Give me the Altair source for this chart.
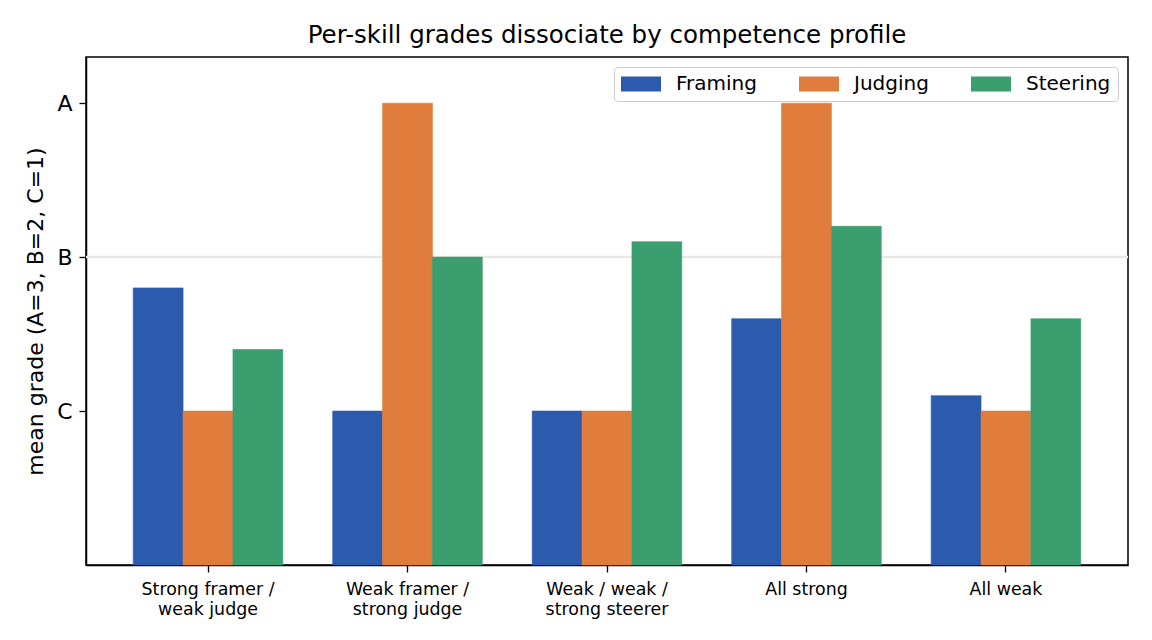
import altair as alt
import pandas as pd

# Competence profiles (line break marks where the axis label wraps)
profiles = [
    "Strong framer /\nweak judge",
    "Weak framer /\nstrong judge",
    "Weak / weak /\nstrong steerer",
    "All strong",
    "All weak",
]
skills = ["Framing", "Judging", "Steering"]
colors = ["#2c5bad", "#e07c3c", "#3a9e6f"]

# Mean grade per skill (A=3, B=2, C=1)
framing = [1.8, 1.0, 1.0, 1.6, 1.1]
judging = [1.0, 3.0, 1.0, 3.0, 1.0]
steering = [1.4, 2.0, 2.1, 2.2, 1.6]

grade_ticks = [1, 2, 3]
grade_labels = ["C", "B", "A"]
reference_grade = [2]

rows = []
for skill, vals in zip(skills, [framing, judging, steering]):
    for prof, v in zip(profiles, vals):
        rows.append({"profile": prof, "skill": skill, "grade": v})
df = pd.DataFrame(rows)

label_expr = " : ".join(
    f"datum.value == {t} ? '{l}'" for t, l in zip(grade_ticks, grade_labels)
) + " : ''"

FONT = "DejaVu Sans"

y_scale = alt.Scale(domain=[0, 3.3], nice=False, zero=True)
skill_scale = alt.Scale(domain=skills, range=colors)

ref_line = (
    alt.Chart(pd.DataFrame({"grade": reference_grade}))
    .mark_rule(color="#e8e8e8", strokeWidth=2.5)
    .encode(y=alt.Y("grade:Q", scale=y_scale))
)

bars = (
    alt.Chart(df)
    .mark_bar(strokeWidth=0.6)
    .encode(
        x=alt.X(
            "profile:N",
            sort=profiles,
            scale=alt.Scale(paddingInner=0.25, paddingOuter=0.2366),
            axis=alt.Axis(
                title=None,
                labelAngle=0,
                labelExpr="split(datum.label, '\\n')",
                labelFontSize=17.4,
                labelLineHeight=20,
                labelPadding=8,
            ),
        ),
        xOffset=alt.XOffset(
            "skill:N",
            sort=skills,
            scale=alt.Scale(paddingInner=0, paddingOuter=0),
        ),
        y=alt.Y(
            "grade:Q",
            scale=y_scale,
            axis=alt.Axis(
                values=grade_ticks,
                labelExpr=label_expr,
                grid=False,
                title="mean grade (A=3, B=2, C=1)",
                titleFontSize=22,
                titleFontWeight="normal",
                titlePadding=9,
                labelFontSize=22,
                labelPadding=7,
            ),
        ),
        stroke=alt.Stroke("skill:N", sort=skills, scale=skill_scale, legend=None),
        color=alt.Color(
            "skill:N",
            sort=skills,
            scale=skill_scale,
            legend=alt.Legend(
                title=None,
                orient="top-right",
                offset=10,
                direction="horizontal",
                columns=3,
                symbolType="M-1,-0.75H3V0.75H-1Z",
                symbolSize=400,
                symbolStrokeWidth=0,
                symbolOpacity=1,
                labelFontSize=20,
                labelOffset=35,
                columnPadding=42,
                padding=7,
                strokeColor="#cccccc",
                fillColor="white",
                cornerRadius=4,
            ),
        ),
    )
)

chart = (
    alt.layer(ref_line, bars)
    .properties(
        width=1042,
        height=508,
        padding={"left": 86, "top": 57, "right": 24, "bottom": 75},
        autosize=alt.AutoSizeParams(type="none"),
        title=alt.TitleParams(
            "Per-skill grades dissociate by competence profile",
            fontSize=24.5,
            fontWeight="normal",
            font=FONT,
            color="black",
            offset=9,
        ),
    )
    .configure(font=FONT)
    .configure_view(stroke="black", strokeWidth=1.5)
    .configure_axis(
        labelFont=FONT,
        titleFont=FONT,
        labelColor="black",
        titleColor="black",
        domainColor="black",
        domainWidth=1.5,
        tickColor="black",
        tickSize=7,
        tickWidth=1.3,
    )
    .configure_legend(labelFont=FONT, labelColor="black")
)

chart.save("out.html", embed_options={"renderer": "svg", "actions": False})
